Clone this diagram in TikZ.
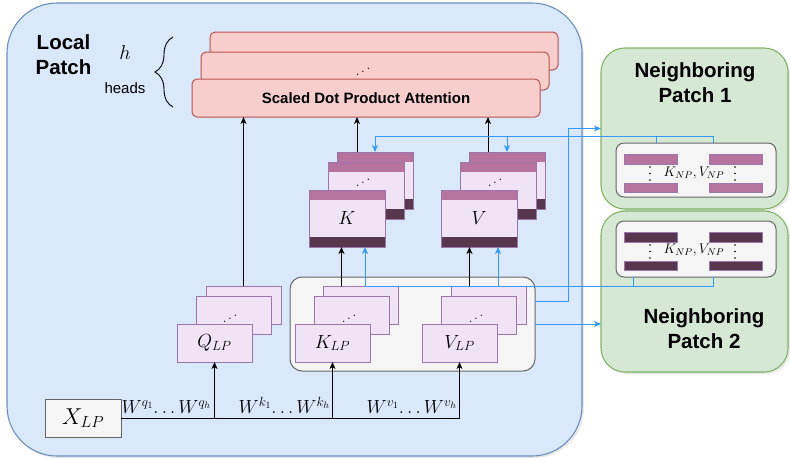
\RequirePackage{fix-cm}
\documentclass[tikz,border=0pt]{standalone}
\usepackage{fontspec}
\newfontfamily\arial{Liberation Sans}
\usetikzlibrary{arrows.meta,positioning,decorations.pathreplacing,shadows}

\definecolor{lpfill}{HTML}{DAE8FC}
\definecolor{lpline}{HTML}{6C8EBF}
\definecolor{npfill}{HTML}{D5E8D4}
\definecolor{npline}{HTML}{82B366}
\definecolor{attfill}{HTML}{F8CECC}
\definecolor{attline}{HTML}{B85450}
\definecolor{grayfill}{HTML}{F5F5F5}
\definecolor{grayline}{HTML}{666666}
\definecolor{cardface}{HTML}{F0E3F5}
\definecolor{cardline}{HTML}{9A76AC}
\definecolor{stripe}{HTML}{B5739D}
\definecolor{darkstripe}{HTML}{56374D}
\definecolor{linkblue}{HTML}{3399FF}

\newcommand{\updots}{\reflectbox{$\ddots$}}

\begin{document}
\begin{tikzpicture}[x=1pt,y=-1pt,>={Stealth[length=7pt,width=6pt,inset=2pt]},line width=1pt,
    every node/.style={inner sep=0pt,outer sep=0pt},
    patch/.style={anchor=north west,line width=1.1pt,drop shadow={opacity=0.18,shadow xshift=2pt,shadow yshift=-2pt}},
    title/.style={font=\arial\bfseries\fontsize{20.5}{25}\selectfont,align=center},
    attcard/.style={anchor=north west,draw=attline,fill=attfill,rounded corners=5pt,minimum width=348pt,minimum height=38pt},
    kvcard/.style={anchor=north west,draw=cardline,fill=cardface,minimum width=76pt,minimum height=57pt,font=\fontsize{19}{22}\selectfont,
        path picture={
            \fill[stripe] (path picture bounding box.north west) rectangle ([yshift=-10pt]path picture bounding box.north east);
            \fill[darkstripe] (path picture bounding box.south west) rectangle ([yshift=10pt]path picture bounding box.south east);
        }},
    lpcard/.style={anchor=north west,draw=cardline,fill=cardface,minimum width=75pt,minimum height=38pt,font=\fontsize{19}{22}\selectfont},
    graybox/.style={anchor=north west,draw=grayline,fill=grayfill},
    npbar/.style={fill=stripe,draw=cardline,line width=0.5pt},
    npdark/.style={fill=darkstripe,draw=cardline,line width=0.5pt},
    vdot/.style={fill=black,radius=0.9pt},
    link/.style={draw=linkblue,line width=1pt}]

    \useasboundingbox (0,0) rectangle (790,459);

    % patches
    \node[patch,draw=lpline,fill=lpfill,rounded corners=50pt,minimum width=575pt,minimum height=453pt] (lp) at (7,3) {};
    \node[patch,draw=npline,fill=npfill,rounded corners=24pt,minimum width=187pt,minimum height=161pt] (np1) at (601,48) {};
    \node[patch,draw=npline,fill=npfill,rounded corners=24pt,minimum width=187pt,minimum height=161pt] (np2) at (601,211) {};

    \node[title] (lptitle) at (63.5,55) {Local\\Patch};
    \node[title] (np1title) at (695,82.5) {Neighboring\\Patch 1};
    \node[title] (np2title) at (704,328.5) {Neighboring\\Patch 2};

    % heads brace
    \node (h) at (125,53) {\fontsize{20}{22}\selectfont$h$};
    \node[anchor=base] (heads) at (125,93) {\arial\fontsize{15}{18}\selectfont heads};
    \draw[line width=0.9pt,decorate,decoration={brace,amplitude=18pt}] (173,107) -- (173,37);

    % attention heads
    \node[attcard] (attback) at (210,32) {};
    \node[attcard] (attmid) at (201,52) {};
    \node[attcard] (att) at (192,79) {\arial\bfseries\fontsize{15}{18}\selectfont Scaled Dot Product Attention};
    \node (attdots) at (363,69) {\fontsize{14}{16}\selectfont\updots};

    % K and V
    \node[kvcard] (kback) at (337,152) {};
    \node[kvcard] (kmid) at (328,162) {};
    \node[kvcard] (k) at (309,190) {$K$};
    \node (kdots) at (363,180) {\fontsize{14}{16}\selectfont\updots};

    \node[kvcard] (vback) at (469,152) {};
    \node[kvcard] (vmid) at (460,162) {};
    \node[kvcard] (v) at (441,190) {$V$};
    \node (vdots) at (495,180) {\fontsize{14}{16}\selectfont\updots};

    % local projections
    \node[graybox,rounded corners=12pt,minimum width=245pt,minimum height=94pt] (kvlp) at (290,277) {};

    \node[lpcard] (qback) at (206,286) {};
    \node[lpcard] (qmid) at (196,296) {};
    \node[lpcard] (qlp) at (177,324) {$Q_{LP}$};
    \node (qdots) at (230,316) {\fontsize{14}{16}\selectfont\updots};

    \node[lpcard] (klpback) at (323,286) {};
    \node[lpcard] (klpmid) at (314,296) {};
    \node[lpcard] (klp) at (295,324) {$K_{LP}$};
    \node (klpdots) at (349,316) {\fontsize{14}{16}\selectfont\updots};

    \node[lpcard] (vlpback) at (451,286) {};
    \node[lpcard] (vlpmid) at (441,296) {};
    \node[lpcard] (vlp) at (422,324) {$V_{LP}$};
    \node (vlpdots) at (476,316) {\fontsize{14}{16}\selectfont\updots};

    \node[graybox,minimum width=76pt,minimum height=38pt,font=\fontsize{23}{26}\selectfont] (xlp) at (45,399) {$X_{LP}$};

    % neighbouring keys and values
    \node[graybox,rounded corners=8pt,minimum width=160pt,minimum height=54pt] (np1kv) at (616,143) {};
    \draw[npbar] (624,154) rectangle (677,164);
    \draw[npbar] (624,183) rectangle (677,192);
    \draw[npbar] (709,154) rectangle (762,164);
    \draw[npbar] (709,183) rectangle (762,192);
    \fill[vdot] (650,167) circle[] (650,173.5) circle[] (650,180) circle[];
    \fill[vdot] (735,167) circle[] (735,173.5) circle[] (735,180) circle[];
    \node (np1txt) at (694,173) {\fontsize{14}{16}\selectfont$K_{NP},V_{NP}$};

    \node[graybox,rounded corners=8pt,minimum width=160pt,minimum height=56pt] (np2kv) at (616,221) {};
    \draw[npdark] (624,232) rectangle (677,242);
    \draw[npdark] (624,261) rectangle (677,270);
    \draw[npdark] (709,232) rectangle (762,242);
    \draw[npdark] (709,261) rectangle (762,270);
    \fill[vdot] (650,245) circle[] (650,251.5) circle[] (650,258) circle[];
    \fill[vdot] (735,245) circle[] (735,251.5) circle[] (735,258) circle[];
    \node (np2txt) at (694,250) {\fontsize{14}{16}\selectfont$K_{NP},V_{NP}$};

    % projections from X
    \draw (xlp.east) -- (xlp.east -| vlp.south);
    \draw[->] (xlp.east -| qlp.south) -- (qlp.south);
    \draw[->] (xlp.east -| klp.south) -- (klp.south);
    \draw[->] (xlp.east -| vlp.south) -- (vlp.south);
    \node[anchor=base east,font=\fontsize{19}{21}\selectfont] (wq) at (211,413) {$W^{q_1}\!\ldots W^{q_h}$};
    \node[anchor=base east,font=\fontsize{19}{21}\selectfont] (wk) at (330,413) {$W^{k_1}\!\ldots W^{k_h}$};
    \node[anchor=base east,font=\fontsize{19}{21}\selectfont] (wv) at (457,413) {$W^{v_1}\!\ldots W^{v_h}$};

    % into attention
    \draw[->] (qback.north) -- (qback.north |- att.south);
    \draw[->] ([xshift=-18pt]kback.north) -- ([xshift=-18pt]kback.north |- att.south);
    \draw[->] ([xshift=-19pt]vback.north) -- ([xshift=-19pt]vback.north |- att.south);
    \draw[->] ([xshift=-19pt]klpback.north) -- ([xshift=-19pt]klpback.north |- k.south);
    \draw[->] ([xshift=-19pt]vlpback.north) -- ([xshift=-19pt]vlpback.north |- v.south);

    % exchange with the neighbours
    \coordinate (feed) at (0,136);
    \draw[link,->] ([xshift=-40pt]np1kv.north) |- (feed -| kback.north) -- (kback.north);
    \draw[link] ([xshift=17pt]np1kv.north) |- ([xshift=-40pt]np1kv.north |- feed);
    \draw[link,->] (feed -| vback.north) -- (vback.north);

    \draw[link,->] ([xshift=-63pt]np2kv.south) |- ([xshift=18pt]k.south |- klpback.north) -- ([xshift=18pt]k.south);
    \draw[link] ([xshift=17pt]np2kv.south) |- ([xshift=-63pt]np2kv.south |- klpback.north);
    \draw[link,->] ([xshift=19pt]v.south |- klpback.north) -- ([xshift=19pt]v.south);

    \draw[link,->] ([yshift=23pt]kvlp.east) -- ++(33,0) |- (np1.west);
    \draw[link,->] (kvlp.east) -- (kvlp.east -| np2.west);
\end{tikzpicture}
\end{document}
